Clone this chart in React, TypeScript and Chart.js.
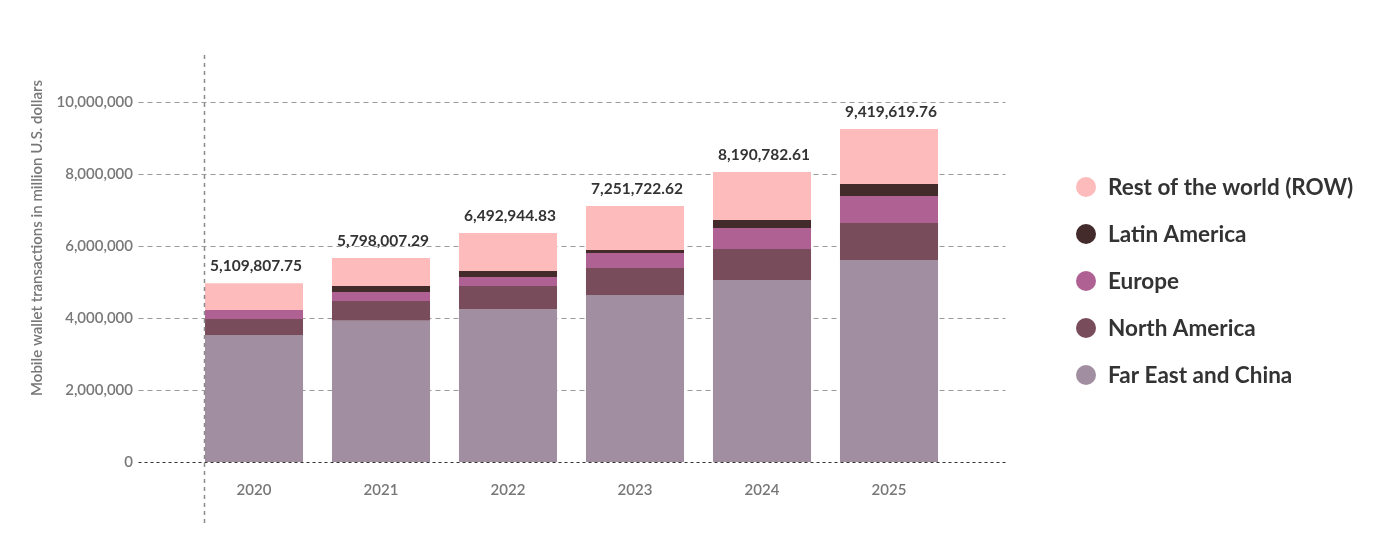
import React, { useEffect, useRef } from "react";
import { Chart, registerables } from "chart.js";

Chart.register(...registerables);

const categories = ["2020", "2021", "2022", "2023", "2024", "2025"];
const farEastChina = [3528000, 3925000, 4250000, 4639000, 5056000, 5611000];
const northAmerica = [444000, 547000, 639000, 750000, 861000, 1028000];
const europe = [250000, 250000, 250000, 417000, 583000, 750000];
const latinAmerica = [0, 167000, 167000, 83000, 222000, 333000];
const restOfWorld = [740000, 778000, 1056000, 1222000, 1333000, 1528000];
const totalLabels = [
  "5,109,807.75",
  "5,798,007.29",
  "6,492,944.83",
  "7,251,722.62",
  "8,190,782.61",
  "9,419,619.76",
];
const yTickValues = [0, 2000000, 4000000, 6000000, 8000000, 10000000];
const yAxisTitle = "Mobile wallet transactions in million U.S. dollars";

const FONT = "Lato, 'Open Sans', sans-serif";

const gridPlugin = {
  id: "customGrid",
  beforeDatasetsDraw(chart: any) {
    const { ctx, chartArea } = chart;
    const y = chart.scales.y;
    ctx.save();
    ctx.strokeStyle = "#9a9a9a";
    ctx.lineWidth = 1;
    ctx.setLineDash([5, 4]);
    for (const v of yTickValues) {
      if (v === 0) continue;
      const py = Math.round(y.getPixelForValue(v)) + 0.5;
      ctx.beginPath();
      ctx.moveTo(chartArea.left - 52, py);
      ctx.lineTo(chartArea.right + 53, py);
      ctx.stroke();
    }
    ctx.restore();
  },
  afterDatasetsDraw(chart: any) {
    const { ctx, chartArea } = chart;
    const y = chart.scales.y;
    ctx.save();
    const p0 = Math.round(y.getPixelForValue(0)) + 0.5;
    ctx.strokeStyle = "#333";
    ctx.lineWidth = 1;
    ctx.setLineDash([3, 3]);
    ctx.beginPath();
    ctx.moveTo(chartArea.left - 52, p0);
    ctx.lineTo(chartArea.right + 53, p0);
    ctx.stroke();
    const firstBar = chart.getDatasetMeta(0).data[0];
    const vx = Math.round(firstBar.x - firstBar.width / 2) - 0.5;
    ctx.strokeStyle = "#8a8a8a";
    ctx.lineWidth = 1.5;
    ctx.setLineDash([4, 4]);
    ctx.beginPath();
    ctx.moveTo(vx, 55);
    ctx.lineTo(vx, 523);
    ctx.stroke();
    const lastMeta = chart.getDatasetMeta(chart.data.datasets.length - 1);
    ctx.setLineDash([]);
    ctx.fillStyle = "#333";
    ctx.font = `bold 15.5px ${FONT}`;
    ctx.textAlign = "center";
    ctx.textBaseline = "middle";
    lastMeta.data.forEach((bar: any, i: number) => {
      ctx.fillText(totalLabels[i], bar.x + 2, bar.y - 17);
    });
    ctx.restore();
  },
  afterDraw(chart: any) {
    const { ctx } = chart;
    ctx.save();
    ctx.translate(37, 238);
    ctx.rotate(-Math.PI / 2);
    ctx.fillStyle = "#777";
    ctx.font = `600 15px ${FONT}`;
    ctx.textAlign = "center";
    ctx.textBaseline = "middle";
    ctx.fillText(yAxisTitle, 0, 0);
    ctx.restore();
    ctx.save();
    const ds = chart.data.datasets;
    const order = ds.map((_: any, i: number) => i).reverse();
    order.forEach((di: number, row: number) => {
      const cy = 187 + row * 47;
      ctx.beginPath();
      ctx.fillStyle = ds[di].backgroundColor;
      ctx.arc(1086, cy, 10, 0, Math.PI * 2);
      ctx.fill();
      ctx.fillStyle = "#333";
      ctx.font = `bold 22.5px ${FONT}`;
      ctx.textAlign = "left";
      ctx.textBaseline = "middle";
      ctx.fillText(ds[di].label, 1108, cy + 1);
    });
    ctx.restore();
  },
};

export default function App() {
  const canvasRef = useRef<HTMLCanvasElement | null>(null);

  useEffect(() => {
    const canvas = canvasRef.current;
    if (!canvas) return;
    const chart = new Chart(canvas, {
      type: "bar",
      data: {
        labels: categories,
        datasets: [
          { label: "Far East and China", data: farEastChina, backgroundColor: "#a18fa1" },
          { label: "North America", data: northAmerica, backgroundColor: "#794c5c" },
          { label: "Europe", data: europe, backgroundColor: "#af6193" },
          { label: "Latin America", data: latinAmerica, backgroundColor: "#432b2b" },
          { label: "Rest of the world (ROW)", data: restOfWorld, backgroundColor: "#fdbbbb" },
        ],
      },
      options: {
        responsive: false,
        animation: false,
        layout: { padding: { left: 0, right: 447.5, top: 102, bottom: 0 } },
        datasets: {
          bar: { categoryPercentage: 1, barPercentage: 0.772, borderWidth: 0 },
        },
        plugins: {
          legend: { display: false },
          tooltip: { enabled: false },
        },
        scales: {
          x: {
            stacked: true,
            grid: { display: false },
            border: { display: false },
            ticks: {
              color: "#777",
              font: { family: FONT, size: 15, weight: "600" },
              padding: 11,
            },
            afterFit(scale: any) {
              scale.height = 98;
            },
          },
          y: {
            stacked: true,
            min: 0,
            max: 10000000,
            grid: { display: false, drawTicks: false },
            border: { display: false },
            ticks: {
              stepSize: 2000000,
              color: "#777",
              font: { family: FONT, size: 15, weight: "600" },
              padding: 57.5,
              callback: (v: any) => Number(v).toLocaleString("en-US"),
            },
            afterFit(scale: any) {
              scale.width = 190.5;
            },
          },
        },
      },
      plugins: [gridPlugin],
    });
    return () => chart.destroy();
  }, []);

  return (
    <div style={{ position: "fixed", left: 0, top: 0, width: 1400, height: 560, background: "#fff" }}>
      <canvas ref={canvasRef} width={1400} height={560} style={{ display: "block" }} />
    </div>
  );
}
